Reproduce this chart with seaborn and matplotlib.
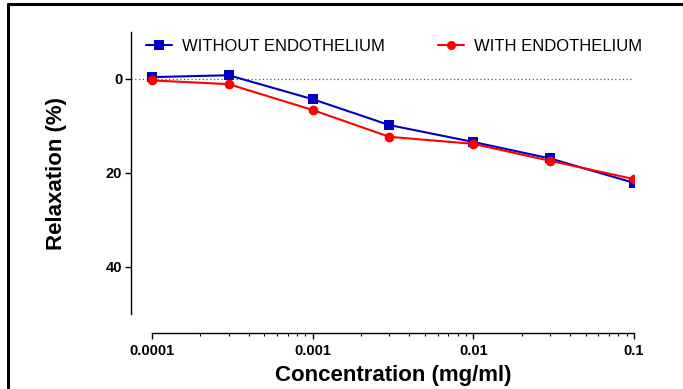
import numpy as np
import pandas as pd
import seaborn as sns
import matplotlib.pyplot as plt
from matplotlib.lines import Line2D
from matplotlib.ticker import NullFormatter, FixedLocator, FixedFormatter

# concentrations (mg/ml) and relaxation (%)
conc = [0.0001, 0.0003, 0.001, 0.003, 0.01, 0.03, 0.1]
without_endo = [-0.4, -0.8, 4.3, 9.8, 13.4, 16.9, 22.1]
with_endo = [0.3, 1.1, 6.6, 12.3, 13.8, 17.4, 21.3]
groups = ['WITHOUT ENDOTHELIUM', 'WITH ENDOTHELIUM']
colors = ['#0000C0', '#FF0000']
x_ticks = [0.0001, 0.001, 0.01, 0.1]
x_tick_labels = ['0.0001', '0.001', '0.01', '0.1']
y_ticks = [0, 20, 40]

df = pd.DataFrame({
    'conc': conc * 2,
    'relax': without_endo + with_endo,
    'group': [groups[0]] * len(conc) + [groups[1]] * len(conc),
})

sns.set_style('white')
plt.rcParams['font.family'] = ['Liberation Sans', 'DejaVu Sans']
plt.rcParams['text.color'] = 'black'
plt.rcParams['axes.labelcolor'] = 'black'
plt.rcParams['xtick.color'] = 'black'
plt.rcParams['ytick.color'] = 'black'

fig = plt.figure(figsize=(6.83, 3.89), dpi=100)
ax = fig.add_axes([131 / 683, 1 - 314 / 389, (634 - 131) / 683, (314 - 32) / 389])

sns.lineplot(data=df, x='conc', y='relax', hue='group', style='group',
             palette=dict(zip(groups, colors)),
             markers={groups[0]: 's', groups[1]: 'o'}, dashes=False,
             markersize=7, markeredgewidth=0, linewidth=1.5,
             legend=False, ax=ax, zorder=3)

ax.set_xscale('log')
ax.set_xlim(10 ** -4.131, 0.1)
ax.set_ylim(50, -10)

# dotted baseline at zero
ax.plot([ax.get_xlim()[0], 0.1], [0, 0], color='#555555', lw=0.9, ls=(0, (1, 2)), zorder=1)

# minor ticks only inside 0.0001 .. 0.1
minor = [m * 10.0 ** e for e in (-4, -3, -2) for m in range(2, 10)]
ax.xaxis.set_major_locator(FixedLocator(x_ticks))
ax.xaxis.set_major_formatter(FixedFormatter(x_tick_labels))
ax.xaxis.set_minor_locator(FixedLocator(minor))
ax.xaxis.set_minor_formatter(NullFormatter())
ax.set_yticks(y_ticks)

for s in ['top', 'right']:
    ax.spines[s].set_visible(False)
ax.spines['bottom'].set_position(('outward', 19 * 0.72))
ax.spines['bottom'].set_bounds(0.0001, 0.1)
for s in ['left', 'bottom']:
    ax.spines[s].set_color('black')
    ax.spines[s].set_linewidth(1.0)

ax.tick_params(axis='x', which='major', direction='out', length=4, width=1, labelsize=10.5, pad=4)
ax.tick_params(axis='x', which='minor', direction='out', length=2.5, width=0.8)
ax.tick_params(axis='y', which='major', direction='out', length=4.3, width=1, labelsize=10.5, pad=2, left=True)
ax.tick_params(axis='x', bottom=True, which='both')
for lab in ax.get_xticklabels() + ax.get_yticklabels():
    lab.set_fontweight('bold')

ax.set_xlabel('Concentration (mg/ml)', fontsize=16, fontweight='bold', labelpad=5)
ax.xaxis.label.set_x((393 - 131) / 503)  # centred under the x spine
ax.set_ylabel('Relaxation (%)', fontsize=16, fontweight='bold', labelpad=28)

handles = [Line2D([], [], color=colors[0], marker='s', markersize=6.5, lw=1.5, markeredgewidth=0),
           Line2D([], [], color=colors[1], marker='o', markersize=6.5, lw=1.5, markeredgewidth=0)]
ax.legend(handles, groups, ncol=2, frameon=False, fontsize=12, labelcolor='black',
          loc='center left', bbox_to_anchor=(0.03, 0.948), handlelength=1.56,
          columnspacing=3.2, handletextpad=0.6, borderaxespad=0, borderpad=0)

# frame lines along the top and left edges of the image
fig.add_artist(Line2D([8 / 683, 8 / 683], [0, 1 - 4 / 389], color='black', lw=2.2, transform=fig.transFigure))
fig.add_artist(Line2D([8 / 683, 1], [1 - 4 / 389, 1 - 4 / 389], color='black', lw=2.2, transform=fig.transFigure))

fig.savefig('out.png', dpi=100)
